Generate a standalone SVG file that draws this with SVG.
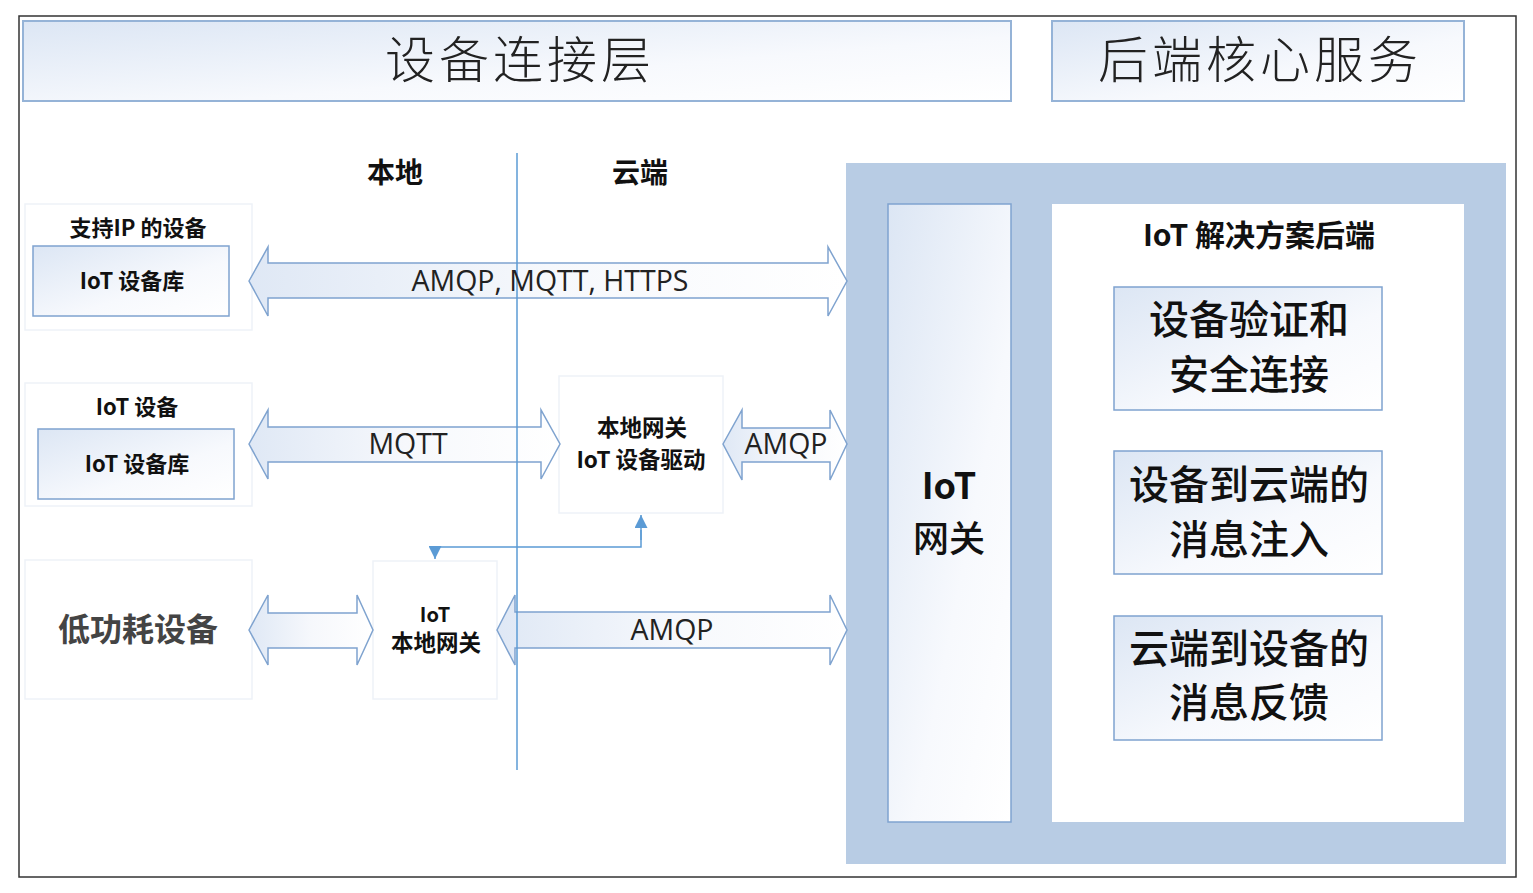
<svg xmlns="http://www.w3.org/2000/svg" width="1533" height="893" viewBox="0 0 1533 893">
<defs>
<linearGradient id="g" x1="0" y1="0" x2="1" y2="1">
<stop offset="0" stop-color="#dce6f4"/><stop offset="0.6" stop-color="#f7f9fd"/><stop offset="1" stop-color="#ffffff"/>
</linearGradient>
<linearGradient id="ga" x1="0" y1="0" x2="1" y2="0">
<stop offset="0" stop-color="#dfe8f5"/><stop offset="0.5" stop-color="#f6f8fc"/><stop offset="1" stop-color="#ffffff"/>
</linearGradient>
<marker id="tri" viewBox="0 0 10 10" refX="10" refY="5" markerWidth="13" markerHeight="13" markerUnits="userSpaceOnUse" orient="auto">
<path d="M0,0 L10,5 L0,10 z" fill="#5b9bd5"/>
</marker>
<style>
.hdr{fill:url(#g);stroke:#95b3d7;stroke-width:2}
.box{fill:url(#g);stroke:#7fa3cf;stroke-width:1.5}
.ghost{fill:#ffffff;stroke:#eef2f8;stroke-width:1.5}
.arr{fill:url(#ga);stroke:#7fa3cf;stroke-width:1.5}
.cjk{font-family:"Noto Sans CJK SC","Liberation Sans",sans-serif}
.h{font-size:50px;font-weight:300;fill:#222;letter-spacing:4px}
.b{font-weight:700;fill:#111}
.lbl{font-family:"Open Sans","Liberation Sans",sans-serif;font-size:28.5px;fill:#222}
</style>
</defs>
<rect x="19" y="16" width="1497" height="861" fill="#fff" stroke="#333" stroke-width="1.5"/>
<g id="hdr-device"><rect class="hdr" x="23" y="21" width="988" height="80"/><text class="cjk h" x="520" y="78" text-anchor="middle">设备连接层</text></g>
<g id="hdr-backend"><rect class="hdr" x="1052" y="21" width="412" height="80"/><text class="cjk h" x="1260" y="78" text-anchor="middle">后端核心服务</text></g>
<g id="zone-labels">
<text class="cjk b" x="395" y="183" font-size="28" text-anchor="middle">本地</text>
<text class="cjk b" x="640" y="183" font-size="28" text-anchor="middle">云端</text></g>
<g id="backend-panel"><rect x="846" y="163" width="660" height="701" fill="#b8cce4"/></g>
<g id="iot-hub"><rect class="box" x="888" y="204" width="123" height="618"/>
<text class="cjk" x="949" y="499" font-size="36" font-weight="700" text-anchor="middle" fill="#111">IoT</text>
<text class="cjk" x="949" y="552" font-size="36" font-weight="500" text-anchor="middle" fill="#111">网关</text></g>
<g id="solution-backend"><rect x="1052" y="204" width="412" height="618" fill="#fff"/>
<text class="cjk b" x="1259" y="246" font-size="30" text-anchor="middle">IoT 解决方案后端</text></g>
<g id="svc1"><rect class="box" x="1114" y="287" width="268" height="123"/>
<text class="cjk" x="1249" y="334" font-size="40" font-weight="500" text-anchor="middle" fill="#111">设备验证和</text>
<text class="cjk" x="1249" y="389" font-size="40" font-weight="500" text-anchor="middle" fill="#111">安全连接</text></g>
<g id="svc2"><rect class="box" x="1114" y="451" width="268" height="123"/>
<text class="cjk" x="1249" y="499" font-size="40" font-weight="500" text-anchor="middle" fill="#111">设备到云端的</text>
<text class="cjk" x="1249" y="554" font-size="40" font-weight="500" text-anchor="middle" fill="#111">消息注入</text></g>
<g id="svc3"><rect class="box" x="1114" y="616" width="268" height="124"/>
<text class="cjk" x="1249" y="663" font-size="40" font-weight="500" text-anchor="middle" fill="#111">云端到设备的</text>
<text class="cjk" x="1249" y="717" font-size="40" font-weight="500" text-anchor="middle" fill="#111">消息反馈</text></g>
<g id="ip-device"><rect class="ghost" x="25" y="204" width="227" height="126"/>
<text class="cjk b" x="138" y="236" font-size="22" text-anchor="middle" fill="#555">支持IP 的设备</text>
<rect class="box" x="33" y="246" width="196" height="70"/>
<text class="cjk b" x="132" y="289" font-size="22" text-anchor="middle">IoT 设备库</text></g>
<g id="iot-device"><rect class="ghost" x="25" y="383" width="227" height="123"/>
<text class="cjk b" x="137" y="415" font-size="22" text-anchor="middle" fill="#555">IoT 设备</text>
<rect class="box" x="38" y="429" width="196" height="70"/>
<text class="cjk b" x="137" y="472" font-size="22" text-anchor="middle">IoT 设备库</text></g>
<g id="lowpower-device"><rect class="ghost" x="25" y="560" width="227" height="139"/>
<text class="cjk" x="138" y="641" font-size="32" font-weight="700" text-anchor="middle" fill="#444">低功耗设备</text></g>
<g id="local-gw"><rect class="ghost" x="373" y="561" width="124" height="138"/>
<text class="cjk b" x="435" y="622" font-size="20" text-anchor="middle">IoT</text>
<text class="cjk b" x="436" y="651" font-size="22.5" text-anchor="middle">本地网关</text></g>
<g id="gw-driver"><rect class="ghost" x="559" y="376" width="164" height="137"/>
<text class="cjk b" x="642" y="436" font-size="22.5" text-anchor="middle">本地网关</text>
<text class="cjk b" x="641" y="468" font-size="22.5" text-anchor="middle">IoT 设备驱动</text></g>
<g id="connectors">
<path class="arr" d="M249,281 L268,247 L268,263 L828,263 L828,247 L847,281 L828,316 L828,298 L268,298 L268,316 Z"/>
<path class="arr" d="M249,444 L268,410 L268,427 L541,427 L541,410 L560,444 L541,479 L541,462 L268,462 L268,479 Z"/>
<path class="arr" d="M723,444 L742,410 L742,428 L830,428 L830,410 L847,444 L830,480 L830,462 L742,462 L742,480 Z"/>
<path class="arr" d="M249,630 L268,595 L268,613 L357,613 L357,595 L373,630 L357,665 L357,648 L268,648 L268,665 Z"/>
<path class="arr" d="M497,630 L515,595 L515,612 L830,612 L830,595 L847,630 L830,665 L830,648 L515,648 L515,665 Z"/>
<line id="divider" x1="517" y1="153" x2="517" y2="770" stroke="#5b9bd5" stroke-width="1.5"/>
<text class="lbl" x="550" y="291" text-anchor="middle">AMQP, MQTT, HTTPS</text>
<text class="lbl" x="408" y="454" text-anchor="middle">MQTT</text>
<text class="lbl" x="786" y="454" text-anchor="middle">AMQP</text>
<text class="lbl" x="672" y="640" text-anchor="middle">AMQP</text>
<path d="M641,530 L641,547 L435,547 L435,559" fill="none" stroke="#5b9bd5" stroke-width="1.5" marker-end="url(#tri)"/>
<path d="M641,540 L641,515" fill="none" stroke="#5b9bd5" stroke-width="1.5" marker-end="url(#tri)"/>
</g>
</svg>
